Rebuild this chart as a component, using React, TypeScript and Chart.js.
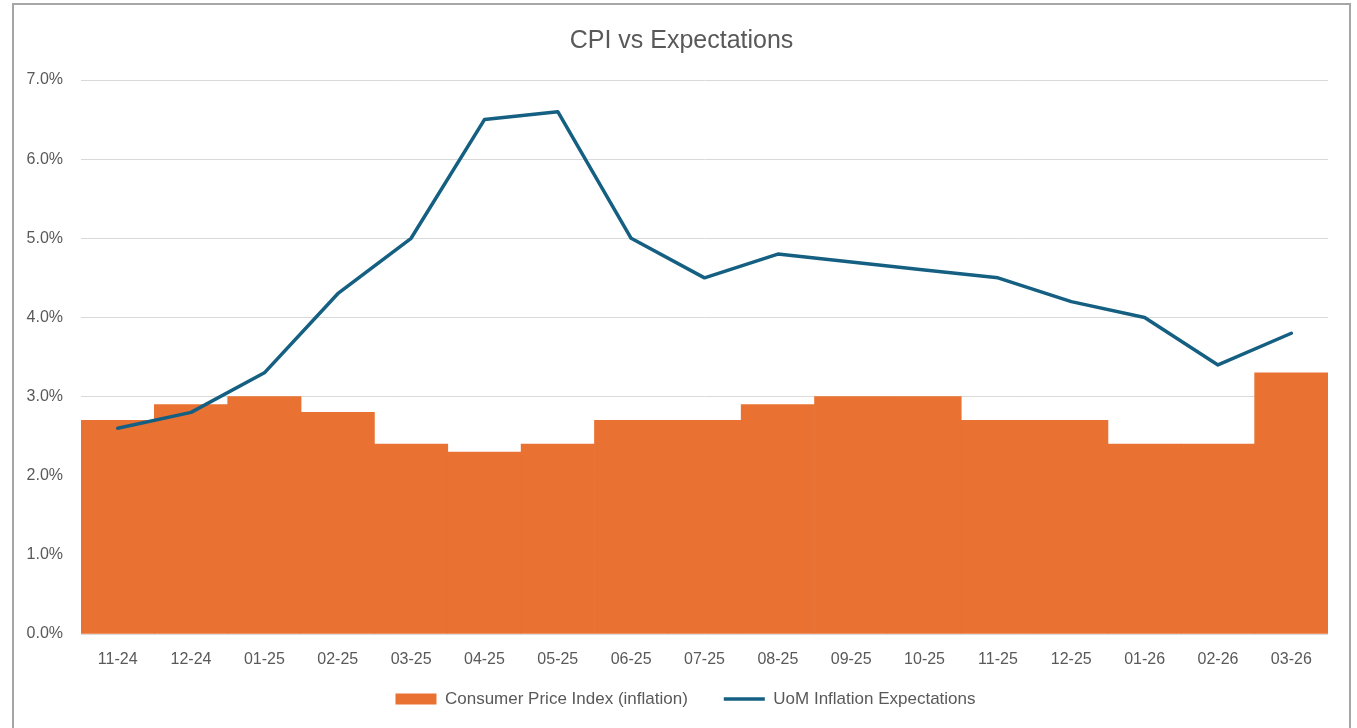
import React, { useEffect, useRef } from "react";
import { Chart, registerables } from "chart.js";

Chart.register(...registerables);

const categories = ["11-24", "12-24", "01-25", "02-25", "03-25", "04-25", "05-25", "06-25", "07-25", "08-25", "09-25", "10-25", "11-25", "12-25", "01-26", "02-26", "03-26"];
const cpiValues = [2.7, 2.9, 3.0, 2.8, 2.4, 2.3, 2.4, 2.7, 2.7, 2.9, 3.0, 3.0, 2.7, 2.7, 2.4, 2.4, 3.3];
const uomValues = [2.6, 2.8, 3.3, 4.3, 5.0, 6.5, 6.6, 5.0, 4.5, 4.8, 4.7, 4.6, 4.5, 4.2, 4.0, 3.4, 3.8];
const seriesNames = ["Consumer Price Index (inflation)", "UoM Inflation Expectations"];
const chartTitle = "CPI vs Expectations";

const FONT = "'Liberation Sans', Arial, sans-serif";
const TEXT = "#595959";

const adjustBoxes = {
  id: "adjustBoxes",
  afterLayout(chart: any) {
    const t = chart.titleBlock;
    if (t) {
      t.right += 21;
    }
    const l = chart.legend;
    if (l) {
      l.right += 21;
      l.left += 8;
      l.top -= 30.7;
      l.bottom -= 30.7;
    }
  },
};

export default function App() {
  const ref = useRef<HTMLCanvasElement | null>(null);

  useEffect(() => {
    if (!ref.current) return;
    const chart = new Chart(ref.current, {
      type: "bar",
      data: {
        labels: categories,
        datasets: [
          {
            type: "bar",
            label: seriesNames[0],
            data: cpiValues,
            backgroundColor: "#E97132",
            borderColor: "#E97132",
            borderWidth: 0,
            barPercentage: 1,
            categoryPercentage: 1,
            order: 2,
            pointStyle: "rect",
          } as any,
          {
            type: "line",
            label: seriesNames[1],
            data: uomValues,
            borderColor: "#156082",
            backgroundColor: "#156082",
            borderWidth: 3.5,
            pointRadius: 0,
            tension: 0,
            borderJoinStyle: "round",
            borderCapStyle: "round",
            order: 1,
            pointStyle: "line",
          } as any,
        ],
      },
      plugins: [adjustBoxes],
      options: {
        responsive: false,
        animation: false,
        devicePixelRatio: 1,
        layout: { padding: { top: 10, left: 0, right: 21, bottom: 12.8 } },
        plugins: {
          title: {
            display: true,
            text: chartTitle,
            color: TEXT,
            font: { family: FONT, size: 25, weight: "normal" },
            padding: { top: 11, bottom: 24 },
          },
          legend: {
            display: true,
            position: "bottom",
            labels: {
              color: TEXT,
              font: { family: FONT, size: 17 },
              usePointStyle: true,
              pointStyleWidth: 41,
              boxHeight: 11,
              padding: 36,
              sort: (a: any, b: any) => a.datasetIndex - b.datasetIndex,
            },
          },
          tooltip: { enabled: false },
        },
        scales: {
          x: {
            grid: { display: false, drawTicks: false },
            border: { display: false },
            ticks: {
              color: TEXT,
              font: { family: FONT, size: 16 },
              padding: 16,
              maxRotation: 0,
              autoSkip: false,
            },
          },
          y: {
            min: 0,
            max: 7,
            grid: { color: "#d9d9d9", lineWidth: 1, drawTicks: false },
            border: { display: false },
            ticks: {
              stepSize: 1,
              color: TEXT,
              font: { family: FONT, size: 16 },
              padding: 18,
              callback: (v: any) => Number(v).toFixed(1) + "%",
            },
            afterFit: (scale: any) => {
              scale.width = 67;
            },
          },
        },
      },
    });
    return () => chart.destroy();
  }, []);

  return (
    <div style={{ position: "fixed", inset: 0, overflow: "hidden", background: "#fff" }}>
      <div
        style={{
          position: "absolute",
          left: 12,
          top: 3,
          width: 1339,
          height: 760,
          border: "2px solid #a6a6a6",
          boxSizing: "border-box",
          background: "#fff",
        }}
      >
        <canvas ref={ref} width={1335} height={756} style={{ display: "block" }} />
      </div>
    </div>
  );
}
